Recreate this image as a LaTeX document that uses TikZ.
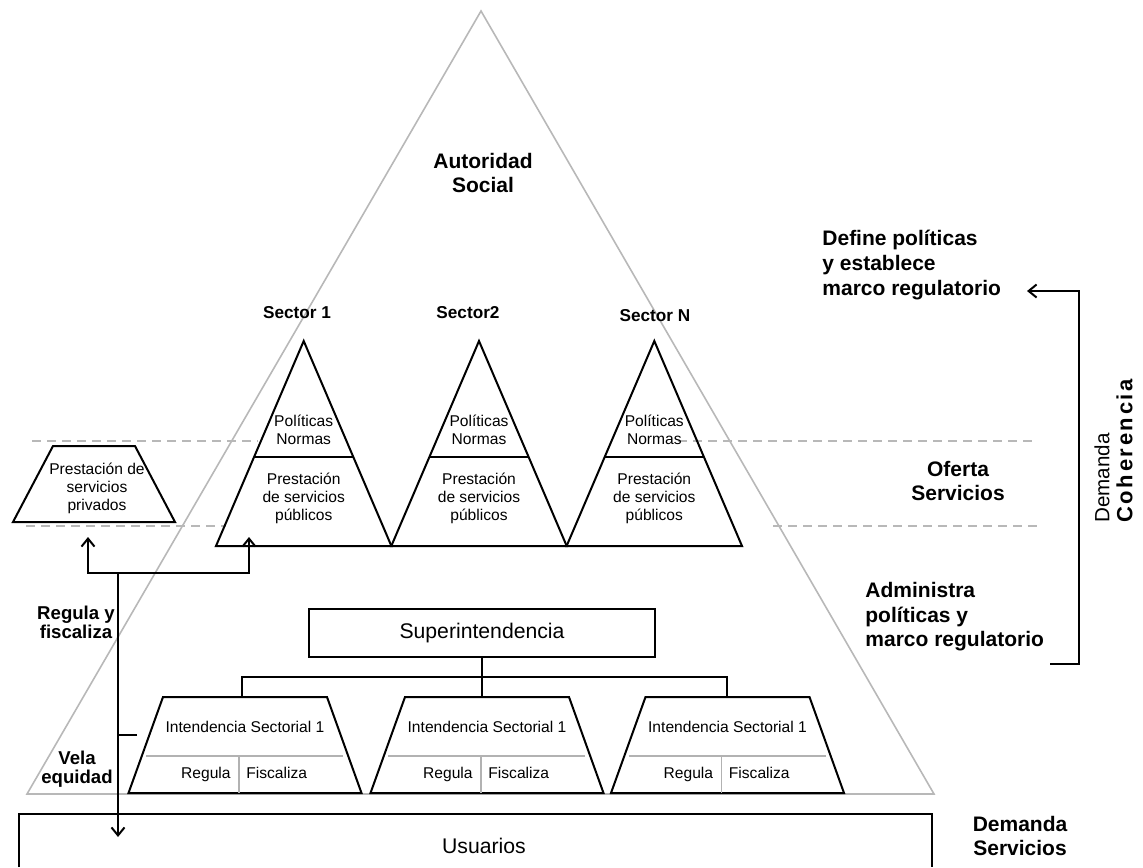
\documentclass[tikz,border=0pt]{standalone}
\usepackage{fontspec}
\setmainfont{Liberation Sans}
\usetikzlibrary{arrows.meta}
\tikzstyle{guia}=[draw=black!28,line width=0.8pt]
\tikzstyle{corte}=[draw=black!28,line width=0.8pt,dash pattern=on 4.5pt off 3pt]
\tikzstyle{trazo}=[draw=black,line width=1pt,line join=miter]
\tikzstyle{fino}=[draw=black!30,line width=0.7pt]
\tikzstyle{chico}=[font=\fontsize{7.8}{9}\selectfont,inner sep=0pt,align=center]
\tikzstyle{grande}=[font=\fontsize{10.6}{12}\selectfont,inner sep=0pt]
\tikzstyle{rotulo}=[font=\bfseries\fontsize{10.5}{12.3}\selectfont,inner sep=0pt]
\tikzstyle{nota}=[font=\bfseries\fontsize{9.3}{9.6}\selectfont,inner sep=0pt,align=center]
\tikzstyle{sector}=[font=\bfseries\fontsize{8.6}{10}\selectfont,inner sep=0pt]

\begin{document}
\begin{tikzpicture}[x=0.5pt,y=-0.5pt,>={Straight Barb[length=4pt,width=6.5pt]}]
  \useasboundingbox (0,0) rectangle (1143,867);
  % gran triangulo: autoridad social
  \draw[guia] (481,11) -- (27,794) -- (934,794) -- cycle;
  \node[rotulo,align=center] (autoridad) at (483,173) {Autoridad\\Social};
  % lineas de corte de la oferta
  \draw[corte] (32,441) -- (258,441) (678,441) -- (1037,441);
  \draw[corte] (26,526) -- (226,526) (773,526) -- (1042,526);
  % sectores: politicas arriba, prestacion abajo
  \foreach \c/\lx/\ly/\nom [count=\i] in {303.7/297/313/Sector 1,479/468/313/Sector2,654.3/655/316/Sector N}{
    \draw[trazo] (\c-87.7,546) -- (\c,341) -- (\c+87.7,546) -- cycle;
    \draw[trazo] (\c-49.6,457) -- (\c+49.6,457);
    \node[sector] (sec\i) at (\lx,\ly) {\nom};
    \node[chico] (pol\i) at (\c,430) {Políticas\\Normas};
    \node[chico] (pub\i) at (\c,498) {Prestación\\de servicios\\públicos};
  }
  % prestacion privada
  \draw[trazo] (53,446) -- (135,446) -- (175,522) -- (13,522) -- cycle;
  \node[chico] (privado) at (97,488) {Prestación de\\servicios\\privados};
  % regula y fiscaliza, vela equidad
  \coordinate (ramal) at (118,573);
  \coordinate (apriv) at (88,537);
  \coordinate (apub) at (249,537);
  \coordinate (ausu) at (118,837);
  \coordinate (vela) at (137,735);
  \draw[trazo,->] (ramal) -| (apriv);
  \draw[trazo,->] (ramal) -| (apub);
  \draw[trazo,->] (ramal) -- (ausu);
  \draw[trazo] (vela) -- (vela -| ramal);
  \node[nota] (regula) at (76,622) {Regula y\\fiscaliza};
  \node[nota] (equidad) at (77,769) {Vela\\equidad};
  % superintendencia e intendencias
  \node[trazo,grande,minimum width=173pt,minimum height=24pt] (super) at (482,633) {Superintendencia};
  \foreach \c [count=\i] in {245,487,727.5}{
    \draw[trazo] (\c-82,697) -- (\c+82,697) -- (\c+116.5,793) -- (\c-116.5,793) -- cycle;
    \draw[fino] (\c-99,756) -- (\c+98,756) (\c-6,756) -- (\c-6,793);
    \node[chico] (nom\i) at (\c,727) {Intendencia Sectorial 1};
    \node[chico,anchor=base east] (reg\i) at (\c-14,778) {Regula};
    \node[chico,anchor=base west] (fis\i) at (\c+1,778) {Fiscaliza};
  }
  \coordinate (baja1) at (242,697);
  \coordinate (baja3) at (727,697);
  \coordinate (nudo) at (482,677);
  \draw[trazo] (super.south) -- (super.south |- baja1);
  \draw[trazo] (baja1) |- (nudo) -| (baja3);
  % usuarios
  \draw[trazo] (19,867) |- (932,814) -- (932,867);
  \node[grande] (usuarios) at (484,846) {Usuarios};
  % rotulos de la derecha
  \node[rotulo,align=left,anchor=west] (define) at (822,265) {Define políticas\\y establece\\marco regulatorio};
  \node[rotulo,align=center] (oferta) at (958,481) {Oferta\\Servicios};
  \node[rotulo,align=left,anchor=west] (administra) at (865,617) {Administra\\políticas y\\marco regulatorio};
  \node[rotulo,align=center] (demserv) at (1020,836) {Demanda\\Servicios};
  % demanda coherencia
  \coordinate (cierre) at (1050,664);
  \coordinate (esquina) at (1079,291);
  \coordinate (punta) at (1027,291);
  \draw[trazo,->] (cierre) -| (esquina) -- (punta);
  \node[rotate=90,align=left,inner sep=0pt,anchor=south west,font=\fontsize{10.3}{11.5}\selectfont] (coherencia) at (1133,523) {Demanda\\{\bfseries\fontsize{11}{11.5}\selectfont\addfontfeature{LetterSpace=12}Coherencia}};
\end{tikzpicture}
\end{document}
